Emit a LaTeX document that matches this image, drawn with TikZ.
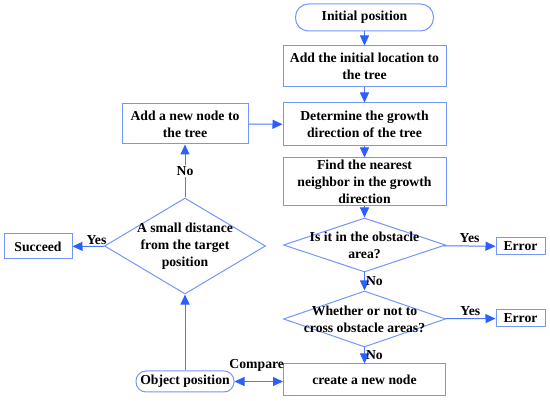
\documentclass[tikz,border=0pt]{standalone}
\usepackage{fontspec}
\setmainfont{Liberation Serif}
\usetikzlibrary{shapes.geometric,arrows.meta}

\definecolor{boxblue}{RGB}{115,150,250}
\definecolor{lineblue}{RGB}{80,120,250}
\definecolor{tipblue}{RGB}{45,95,255}

\tikzset{
  procbox/.style={draw=boxblue, line width=1pt, rectangle, align=center, inner sep=1pt},
  termbox/.style={draw=boxblue, line width=1pt, rectangle, rounded corners=#1, align=center, inner sep=1pt},
  decision/.style={draw=boxblue, line width=1pt, diamond, inner sep=0pt},
  tip/.tip={Triangle[length=10pt,width=9pt,fill=tipblue,color=tipblue]},
  flow/.style={draw=lineblue, line width=1pt, -tip},
  lbl/.style={inner sep=1pt}
}

\begin{document}
\begin{tikzpicture}[x=1pt, y=-1pt,
    every node/.style={font=\fontsize{13.7}{17}\selectfont\bfseries}]
  \useasboundingbox (0,0) rectangle (550,401);

  % Columna principal
  \node[termbox=13pt, minimum width=138pt, minimum height=27pt] (init) at (364.5,17.5) {Initial position};
  \node[procbox, minimum width=163pt, minimum height=41pt] (addinit) at (364.5,66.5) {Add the initial location to\\the tree};
  \node[procbox, minimum width=163pt, minimum height=43pt] (grow) at (364.5,124.5) {Determine the growth\\direction of the tree};
  \node[procbox, minimum width=163pt, minimum height=48pt] (near) at (364.5,182) {Find the nearest\\neighbor in the growth\\direction};

  % Decisiones
  \node[decision, minimum width=162pt, minimum height=54pt] (obst) at (364.5,245) {};
  \node[align=center] (obst-t) at (364.5,245) {Is it in the obstacle\\area?};
  \node[decision, minimum width=162pt, minimum height=56pt] (cross) at (364.5,319) {};
  \node[align=center] (cross-t) at (364.5,319) {Whether or not to\\cross obstacle areas?};
  \node[procbox, minimum width=162pt, minimum height=32pt] (create) at (364.5,380) {create a new node};

  % Errores
  \node[procbox, minimum width=49pt, minimum height=17pt] (err1) at (520.5,246.5) {Error};
  \node[procbox, minimum width=49pt, minimum height=17pt] (err2) at (520.5,318.5) {Error};

  % Columna izquierda
  \node[termbox=10pt, minimum width=98pt, minimum height=21pt] (objpos) at (185,381.5) {Object position};
  \node[decision, minimum width=161pt, minimum height=96pt] (dist) at (185,246) {};
  \node[align=center] (dist-t) at (185,246) {A small distance\\from the target\\position};
  \node[procbox, minimum width=126pt, minimum height=40pt] (addnew) at (185,124) {Add a new node to\\the tree};
  \node[procbox, minimum width=68pt, minimum height=25pt] (succ) at (38,246.5) {Succeed};

  % Flechas
  \draw[flow] (init) -- (addinit);
  \draw[flow] (addinit) -- (grow);
  \draw[flow] (grow) -- (near);
  \draw[flow] (near) -- (obst);
  \draw[flow] (obst) -- (cross) node[midway, right, lbl]{No};
  \draw[flow] (cross) -- (create) node[midway, right, lbl]{No};
  \draw[flow] (obst) -- (err1) node[midway, above, lbl, yshift=2pt]{Yes};
  \draw[flow] (cross) -- (err2) node[midway, above, lbl, yshift=2pt]{Yes};
  \draw[flow, tip-tip] (objpos.east) -- (objpos.east -| create.west)
    node[midway, above, lbl, yshift=9pt, xshift=-2pt]{Compare};
  \draw[flow] (objpos) -- (dist);
  \draw[flow] (dist) -- (addnew) node[midway, fill=white, lbl]{No};
  \draw[flow] (addnew) -- (grow);
  \draw[flow] (dist) -- (succ) node[pos=0.25, above, lbl]{Yes};
\end{tikzpicture}
\end{document}
